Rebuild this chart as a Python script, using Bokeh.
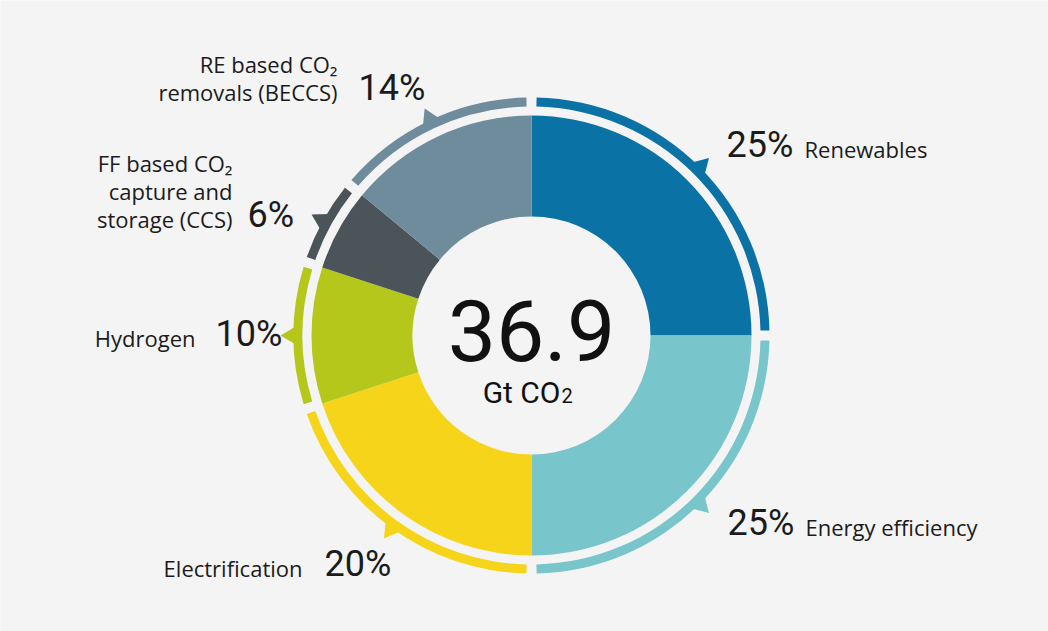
import numpy as np
from bokeh.plotting import figure
from bokeh.models import Range1d
from bokeh.embed import file_html
from bokeh.resources import INLINE
from bokeh.core.properties import value

# data
categories = ["Renewables", "Energy efficiency", "Electrification", "Hydrogen",
              "FF based CO\u2082\ncapture and\nstorage (CCS)",
              "RE based CO\u2082\nremovals (BECCS)"]
shares = [25, 25, 20, 10, 6, 14]
colors = ["#0b72a5", "#79c5cc", "#f5d419", "#b4c71a", "#4b5459", "#6f8c9d"]
total_value = "36.9"
total_unit = "Gt CO"
total_unit_sub = "2"

# layout of the annotations, in page pixels
label_x = [804, 805, 302, 195, 232, 337]
label_align = ["left", "left", "right", "right", "right", "right"]
pct_x = [726, 727, 324, 215, 247, 358]
text_base = [158, 536, 577, 347, 228, 101]
line_gap = 28

CX, CY = 531, 335
W, H = 1048, 631


def sx(X):
    return X - CX


def sy(Y, size=0, k=0.0):
    # baseline in page pixels -> data y, nudged up to undo the renderer's drop
    return CY - Y + k * size


bg = "#f4f4f4"
ink = "#1b1b1b"
narrow = value("Roboto")
sans = value("Open Sans")
K_SANS, K_NUM = 0.44, 0.38

p = figure(width=W, height=H, output_backend="svg", toolbar_location=None,
           x_range=Range1d(-CX, W - CX), y_range=Range1d(CY - H, CY),
           x_axis_type=None, y_axis_type=None, min_border=0,
           background_fill_color=bg, border_fill_color=bg)
p.grid.visible = False
p.outline_line_color = None

frac = np.array(shares) / sum(shares)
cum = np.concatenate([[0], np.cumsum(frac)])
start = np.pi / 2 - cum[1:] * 2 * np.pi
end = np.pi / 2 - cum[:-1] * 2 * np.pi
mid = (start + end) / 2

# donut
p.annular_wedge(x=0, y=0, inner_radius=119, outer_radius=220,
                start_angle=start, end_angle=end, color=colors, line_color=None)

# outer ring with gaps
trim = 5 / 233.5
p.annular_wedge(x=0, y=0, inner_radius=229, outer_radius=238,
                start_angle=start + trim, end_angle=end - trim,
                color=colors, line_color=None)

# small pointers on the ring
half = 9 / 237
r0, r1 = 236, 251
xs = [[r0 * np.cos(m - half), r1 * np.cos(m), r0 * np.cos(m + half)] for m in mid]
ys = [[r0 * np.sin(m - half), r1 * np.sin(m), r0 * np.sin(m + half)] for m in mid]
p.patches(xs=xs, ys=ys, color=colors, line_color=None)

# percentages
p.text(x=[sx(v) for v in pct_x], y=[sy(v, 36, K_NUM) for v in text_base],
       text=[f"{s}%" for s in shares], text_font=narrow, text_font_size="36px",
       text_color=ink, text_align="left", text_baseline="alphabetic")

# category labels, line by line
for name, lx, al, base in zip(categories, label_x, label_align, text_base):
    lines = name.split("\n")
    n = len(lines)
    p.text(x=[sx(lx)] * n,
           y=[sy(base - (n - 1 - i) * line_gap, 22, K_SANS) for i in range(n)],
           text=lines, text_font=sans, text_font_size="22px", text_color=ink,
           text_align=al, text_baseline="alphabetic")

# centre total
p.text(x=[0], y=[sy(363, 86, K_NUM)], text=[total_value], text_font=narrow,
       text_font_size="86px", text_color="#111111", text_align="center",
       text_baseline="alphabetic")
p.text(x=[sx(560)], y=[sy(403, 30, K_NUM)], text=[total_unit], text_font=narrow,
       text_font_size="30px", text_color="#111111", text_align="right",
       text_baseline="alphabetic")
p.text(x=[sx(561)], y=[sy(403, 20, K_NUM)], text=[total_unit_sub],
       text_font=narrow, text_font_size="20px", text_color="#111111",
       text_align="left", text_baseline="alphabetic")

open("out.html", "w").write(file_html(p, INLINE))
